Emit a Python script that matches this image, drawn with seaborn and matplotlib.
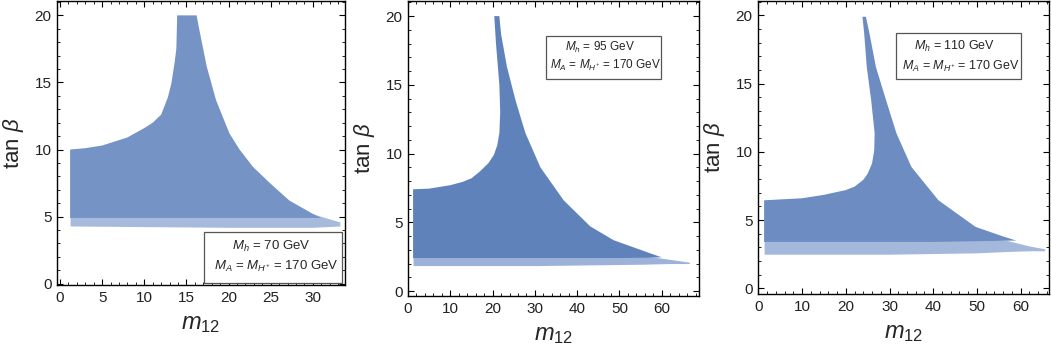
import matplotlib
matplotlib.use("Agg")
import matplotlib.pyplot as plt
import seaborn as sns
from matplotlib.patches import Rectangle
from matplotlib.ticker import MultipleLocator

# boundaries of the allowed regions (m12, tan beta)
# panel 1: Mh = 70 GeV
p1_x = [1.2, 1.2, 3, 5, 8, 10, 11, 12, 12.8, 13.2, 13.6, 13.8, 13.9, 16.2, 16.6, 17.4,
        18.5, 20.1, 21.3, 22.9, 24.9, 27.2, 30, 31, 20, 10, 1.2]
p1_y = [4.9, 10.0, 10.1, 10.3, 10.9, 11.6, 12.0, 12.6, 13.9, 14.9, 16.5, 17.5, 20, 20, 18.7, 16.2,
        13.7, 11.2, 10.0, 8.7, 7.5, 6.2, 5.2, 4.9, 4.9, 4.9, 4.9]
p1_edge_x = [1.2, 20, 30, 33.2]
p1_edge_lo = [4.3, 4.2, 4.2, 4.3]
p1_edge_hi = [5.2, 5.2, 5.2, 4.6]

# panel 2: Mh = 95 GeV
p2_x = [1.2, 1.2, 5, 10, 13, 15, 17, 19, 20.3, 21.1, 21.6, 21.8, 21.6, 21.2, 20.8, 20.4, 21.6,
        22.0, 23.4, 25.4, 27.75, 31.3, 36.8, 43.1, 48.6, 57.2, 60, 50, 30, 10, 1.2]
p2_y = [2.4, 7.4, 7.45, 7.7, 7.95, 8.2, 8.7, 9.3, 9.9, 10.6, 11.5, 13.0, 15.0, 16.5, 18.0, 20, 20,
        18.7, 16.3, 13.9, 11.5, 9.0, 6.6, 4.7, 3.7, 2.75, 2.45, 2.4, 2.4, 2.4, 2.4]
p2_edge_x = [1.2, 30, 55, 62, 66.5]
p2_edge_lo = [1.85, 1.85, 1.95, 2.0, 2.0]
p2_edge_hi = [2.7, 2.7, 2.6, 2.3, 2.1]

# panel 3: Mh = 110 GeV
p3_x = [1.3, 1.3, 10, 15, 20, 22, 24, 25, 26, 26.5, 26.6, 25.8, 24.8, 24.2, 23.8, 24.6, 25.4,
        26.9, 29.2, 31.6, 35.0, 41.2, 49.7, 56, 59, 40, 20, 1.3]
p3_y = [3.4, 6.45, 6.6, 6.85, 7.2, 7.45, 7.95, 8.4, 9.15, 10.1, 11.35, 13.8, 16.2, 18.7, 19.9, 19.9, 18.7,
        16.2, 13.8, 11.35, 8.9, 6.45, 4.5, 3.8, 3.5, 3.4, 3.4, 3.4]
p3_edge_x = [1.3, 30, 50, 57, 62, 65.5]
p3_edge_lo = [2.5, 2.5, 2.6, 2.7, 2.75, 2.75]
p3_edge_hi = [3.7, 3.7, 3.7, 3.5, 3.1, 2.9]

mh_labels = ["70", "95", "110"]

sns.set_style("white")
plt.rcParams["font.family"] = ["Liberation Sans", "DejaVu Sans"]
plt.rcParams["mathtext.fontset"] = "custom"
plt.rcParams["mathtext.rm"] = "Liberation Sans"
plt.rcParams["mathtext.it"] = "Liberation Sans:italic"

fig = plt.figure(figsize=(10.51, 3.53), dpi=100)
axes = [
    fig.add_axes([0.0542, 0.1926, 0.274, 0.8045]),
    fig.add_axes([0.3882, 0.1615, 0.2769, 0.8357]),
    fig.add_axes([0.7212, 0.1670, 0.2769, 0.8300]),
]

# (core colour, sparse edge colour): panel 1 is sparser, panel 2 densest
colours = [("#7593c5", "#a6bbdc"), ("#5f82bb", "#9cb2d8"), ("#6d8cc1", "#a3b8db")]
panels = [
    (p1_x, p1_y, p1_edge_x, p1_edge_lo, p1_edge_hi),
    (p2_x, p2_y, p2_edge_x, p2_edge_lo, p2_edge_hi),
    (p3_x, p3_y, p3_edge_x, p3_edge_lo, p3_edge_hi),
]
xlims = [(-0.36, 33.8), (0.0, 68.8), (-0.1, 66.5)]
ylims = [(-0.1, 21.07), (-0.36, 21.1), (-0.42, 21.05)]
xmajor = [5, 10, 10]
xminor = [1, 2, 2]
box_fs = [9.5, 8.5, 9]

# legend boxes: (left, bottom, width, height), line1 (x, y), line2 (x, y) in axes fractions
boxes = [
    ((0.51, 0.007, 0.48, 0.18), (0.745, 0.135), (0.763, 0.064)),
    ((0.473, 0.737, 0.395, 0.144), (0.659, 0.842), (0.678, 0.78)),
    ((0.473, 0.734, 0.431, 0.156), (0.674, 0.846), (0.698, 0.778)),
]

for i, ax in enumerate(axes):
    px, py, ex, elo, ehi = panels[i]
    core_c, edge_c = colours[i]
    ax.fill_between(ex, elo, ehi, color=edge_c, linewidth=0, zorder=1)
    ax.fill(px, py, color=core_c, linewidth=0, zorder=2)

    ax.set_xlim(*xlims[i])
    ax.set_ylim(*ylims[i])
    ax.xaxis.set_major_locator(MultipleLocator(xmajor[i]))
    ax.xaxis.set_minor_locator(MultipleLocator(xminor[i]))
    ax.yaxis.set_major_locator(MultipleLocator(5))
    ax.yaxis.set_minor_locator(MultipleLocator(1))
    ax.tick_params(which="both", direction="in", bottom=True, left=True, top=True, right=True,
                   color="black")
    ax.tick_params(which="major", length=4, width=0.8, labelsize=11, pad=4, labelcolor="#222222")
    ax.tick_params(which="minor", length=2, width=0.6)
    for s in ax.spines.values():
        s.set_color("black")
        s.set_linewidth(1.0)

    ax.set_xlabel("$m_{12}$", fontsize=17, labelpad=6)
    ax.set_ylabel("tan $\\beta$", fontsize=16, labelpad=6)

    (bx, by, bw, bh), l1, l2 = boxes[i]
    ax.add_patch(Rectangle((bx, by), bw, bh, transform=ax.transAxes, fill=True,
                           facecolor="white", edgecolor="#555555", linewidth=0.9, zorder=5))
    ax.text(l1[0], l1[1], "$M_h$ = " + mh_labels[i] + " GeV", transform=ax.transAxes,
            ha="center", va="center", fontsize=box_fs[i], zorder=6)
    ax.text(l2[0], l2[1], "$M_A$ = $M_{H^{+}}$ = 170 GeV", transform=ax.transAxes,
            ha="center", va="center", fontsize=box_fs[i], zorder=6)

fig.savefig("out.png", dpi=100)
